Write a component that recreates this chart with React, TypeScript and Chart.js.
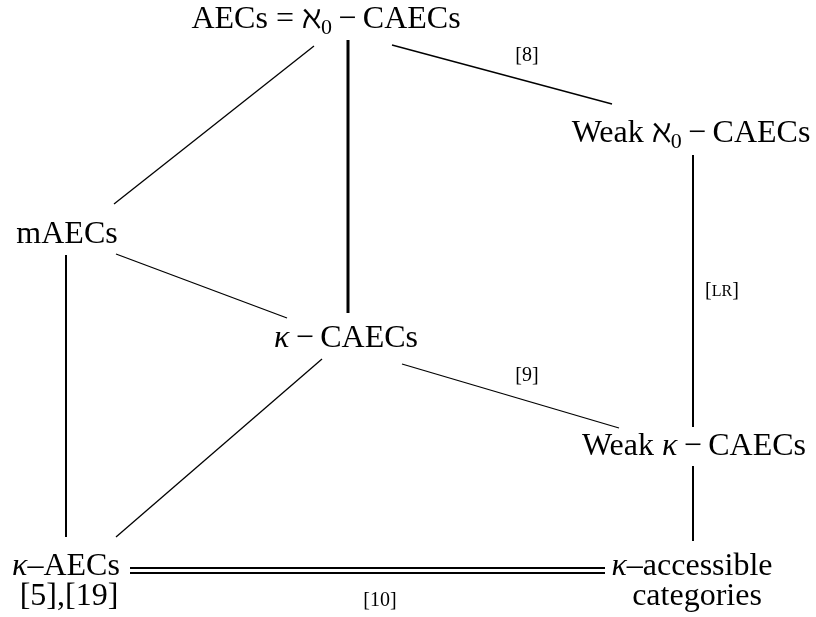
import React, { useEffect, useRef } from "react";
import { Chart, registerables } from "chart.js";

Chart.register(...registerables);

type Run = { t: string; s?: "rm" | "it" | "sub" | "sc" };

// ---- Node / label text (runs), anchor centre x and baseline y in diagram units ----
const labelRuns: Run[][] = [
  [{ t: "AECs = " }, { t: "ℵ" }, { t: "0", s: "sub" }, { t: "\u2009−\u2009CAECs" }],
  [{ t: "Weak " }, { t: "ℵ" }, { t: "0", s: "sub" }, { t: "\u2009−\u2009CAECs" }],
  [{ t: "mAECs" }],
  [{ t: "κ", s: "it" }, { t: "\u2009−\u2009CAECs" }],
  [{ t: "Weak " }, { t: "κ", s: "it" }, { t: "\u2009−\u2009CAECs" }],
  [{ t: "κ", s: "it" }, { t: "–AECs" }],
  [{ t: "[5],[19]" }],
  [{ t: "κ", s: "it" }, { t: "–accessible" }],
  [{ t: "categories" }],
  [{ t: "[8]" }],
  [{ t: "[" }, { t: "LR", s: "sc" }, { t: "]" }],
  [{ t: "[9]" }],
  [{ t: "[10]" }],
];
const labelX = [326, 691, 67, 346, 694, 66, 69, 692, 697, 527, 722, 527, 380];
const labelY = [28, 142, 243, 347, 455, 575, 605, 575, 605, 61, 296, 381, 606];
const labelSize = [32, 32, 32, 32, 32, 32, 32, 32, 32, 20, 20, 20, 20];

// ---- Edges (diagram units) ----
const edgeX1 = [314, 348, 392, 693, 116, 66, 322, 402, 693, 130, 130];
const edgeY1 = [46, 40, 45, 155, 254, 255, 359, 364, 466, 568, 573];
const edgeX2 = [114, 348, 612, 693, 287, 66, 116, 619, 693, 605, 605];
const edgeY2 = [204, 313, 104, 427, 318, 537, 537, 428, 541, 568, 573];
const edgeWidth = [1.3, 3, 1.3, 2, 1.3, 2, 1.3, 1.3, 2, 2, 2];

const FAMILY = '"Liberation Serif", "DejaVu Serif", serif';

function fontFor(run: Run, size: number): string {
  if (run.s === "it") return `italic ${size}px ${FAMILY}`;
  if (run.s === "sub") return `${Math.round(size * 0.7)}px ${FAMILY}`;
  if (run.s === "sc") return `${Math.round(size * 0.8)}px ${FAMILY}`;
  return `${size}px ${FAMILY}`;
}

export default function App() {
  const ref = useRef<HTMLCanvasElement>(null);

  useEffect(() => {
    if (!ref.current) return;
    const datasets = edgeX1.map((_, i) => ({
      data: [
        { x: edgeX1[i], y: edgeY1[i] },
        { x: edgeX2[i], y: edgeY2[i] },
      ],
      showLine: true,
      borderColor: "#000",
      backgroundColor: "#000",
      borderWidth: edgeWidth[i],
      pointRadius: 0,
      fill: false,
    }));

    const labelPlugin = {
      id: "diagramLabels",
      afterDatasetsDraw(chart: any) {
        const ctx: CanvasRenderingContext2D = chart.ctx;
        const xs = chart.scales.x;
        const ys = chart.scales.y;
        ctx.save();
        ctx.fillStyle = "#000";
        ctx.textBaseline = "alphabetic";
        ctx.textAlign = "left";
        labelRuns.forEach((runs, i) => {
          const size = labelSize[i];
          let total = 0;
          const widths = runs.map((r) => {
            ctx.font = fontFor(r, size);
            const w = ctx.measureText(r.t).width;
            total += w;
            return w;
          });
          let x = xs.getPixelForValue(labelX[i]) - total / 2;
          const y = ys.getPixelForValue(labelY[i]);
          runs.forEach((r, j) => {
            ctx.font = fontFor(r, size);
            const dy = r.s === "sub" ? size * 0.18 : 0;
            ctx.fillText(r.t, x, y + dy);
            x += widths[j];
          });
        });
        ctx.restore();
      },
    };

    const chart = new Chart(ref.current, {
      type: "scatter",
      data: { datasets: datasets as any },
      options: {
        animation: false,
        responsive: true,
        maintainAspectRatio: false,
        events: [],
        layout: { padding: 0 },
        plugins: {
          legend: { display: false },
          tooltip: { enabled: false },
        },
        scales: {
          x: { type: "linear", min: 0, max: 816, display: false },
          y: { type: "linear", min: 0, max: 617, reverse: true, display: false },
        },
      },
      plugins: [labelPlugin],
    });
    return () => chart.destroy();
  }, []);

  return (
    <div style={{ position: "fixed", left: 0, top: 0, width: 816, height: 617, background: "#fff" }}>
      <canvas ref={ref} />
    </div>
  );
}
